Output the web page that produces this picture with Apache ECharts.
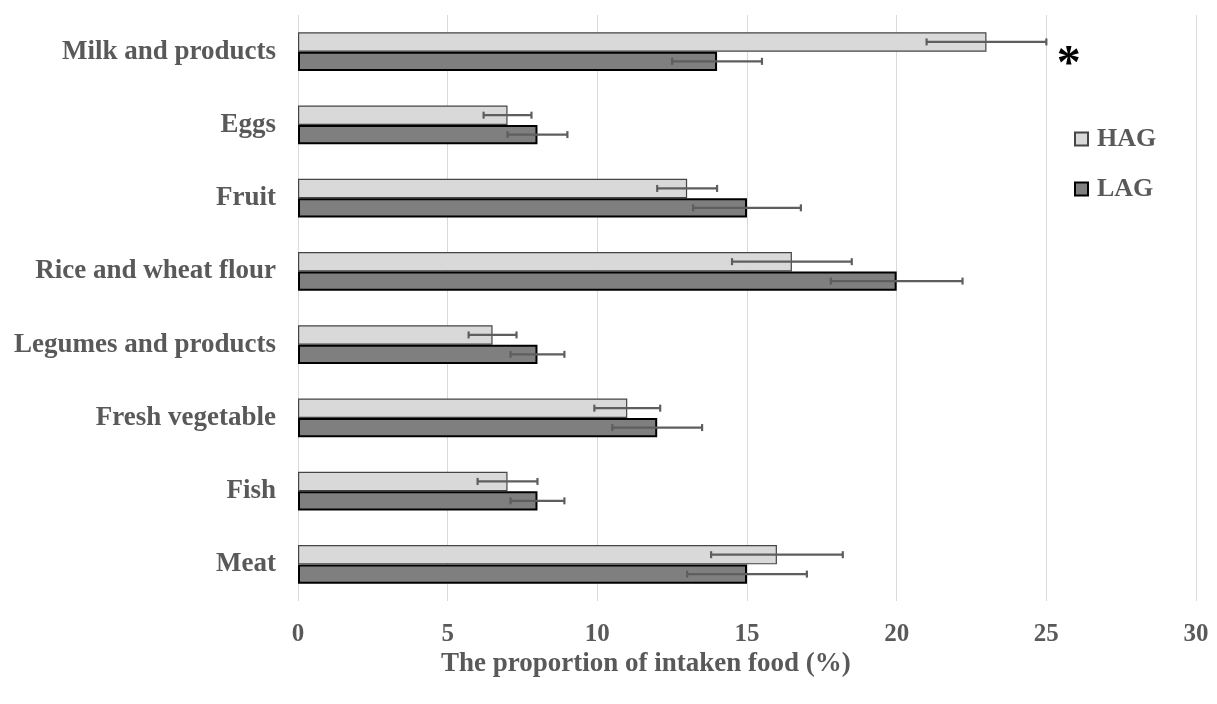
<!DOCTYPE html>
<html>
<head>
<meta charset="utf-8">
<script src="https://cdn.jsdelivr.net/npm/echarts@6/dist/echarts.min.js"></script>
<style>html,body{margin:0;padding:0;background:#fff;}#c{width:1217px;height:704px;}</style>
</head>
<body>
<div id="c"></div>
<script>
// categories listed bottom to top
const categories = ['Meat', 'Fish', 'Fresh vegetable', 'Legumes and products', 'Rice and wheat flour', 'Fruit', 'Eggs', 'Milk and products'];
const hagValues = [16, 7, 11, 6.5, 16.5, 13, 7, 23];
const hagErrors = [2.2, 1.0, 1.1, 0.8, 2.0, 1.0, 0.8, 2.0];
const lagValues = [15, 8, 12, 8, 20, 15, 8, 14];
const lagErrors = [2.0, 0.9, 1.5, 0.9, 2.2, 1.8, 1.0, 1.5];
const xTicks = [0, 5, 10, 15, 20, 25, 30];
const seriesNames = ['HAG', 'LAG'];
const markedCategory = 'Milk and products';

const FONT = '"Liberation Serif", "Times New Roman", serif';
const TXT = '#595959';
const GAP = 0.47;

function errorSeries(name, values, errors, side) {
  return {
    type: 'custom',
    name: name + ' error',
    z: 10,
    silent: true,
    data: values.map((v, i) => [i, v - errors[i], v + errors[i]]),
    renderItem: function (params, api) {
      const idx = api.value(0);
      const lo = api.coord([api.value(1), idx]);
      const hi = api.coord([api.value(2), idx]);
      const band = api.size([0, 1])[1];
      const barW = band * (1 - GAP) / 2;
      const y = lo[1] + side * barW / 2;
      const cap = 3.5;
      const style = { stroke: '#5e5e5e', lineWidth: 2.2 };
      return {
        type: 'group',
        children: [
          { type: 'line', shape: { x1: lo[0], y1: y, x2: hi[0], y2: y }, style: style },
          { type: 'line', shape: { x1: lo[0], y1: y - cap, x2: lo[0], y2: y + cap }, style: style },
          { type: 'line', shape: { x1: hi[0], y1: y - cap, x2: hi[0], y2: y + cap }, style: style }
        ]
      };
    }
  };
}

const chart = echarts.init(document.getElementById('c'), null, { renderer: 'canvas' });
chart.setOption({
  animation: false,
  backgroundColor: '#ffffff',
  grid: { left: 298, right: 21, top: 15, bottom: 103, containLabel: false },
  title: {
    text: 'The proportion of intaken food (%)',
    left: 436, top: 646,
    textStyle: { fontFamily: FONT, fontWeight: 'bold', fontSize: 27, color: TXT }
  },
  legend: {
    data: seriesNames,
    orient: 'vertical',
    left: 1069, top: 121,
    itemWidth: 13, itemHeight: 13,
    itemGap: 24,
    icon: 'rect',
    textStyle: { fontFamily: FONT, fontWeight: 'bold', fontSize: 26, color: TXT, padding: [0, 0, 0, 4] }
  },
  xAxis: {
    type: 'value',
    min: xTicks[0], max: xTicks[xTicks.length - 1], interval: 5,
    axisLine: { show: false },
    axisTick: { show: false },
    axisLabel: { fontFamily: FONT, fontWeight: 'bold', fontSize: 25, color: TXT, margin: 21 },
    splitLine: { show: true, lineStyle: { color: '#d9d9d9', width: 1 } }
  },
  yAxis: {
    type: 'category',
    data: categories,
    axisLine: { show: false },
    axisTick: { show: false },
    axisLabel: { fontFamily: FONT, fontWeight: 'bold', fontSize: 27, color: TXT, margin: 22 }
  },
  series: [
    {
      name: seriesNames[0], type: 'bar', data: hagValues,
      barGap: '0%', barCategoryGap: (GAP * 100) + '%',
      itemStyle: { color: '#d9d9d9', borderColor: '#454545', borderWidth: 1.2 },
      markPoint: {
        symbol: 'circle', symbolSize: 0,
        data: [{ coord: [25.75, markedCategory] }],
        label: { show: true, formatter: '*', fontFamily: FONT, fontWeight: 'bold', fontSize: 48, color: '#000', offset: [0, 24] }
      }
    },
    {
      name: seriesNames[1], type: 'bar', data: lagValues,
      itemStyle: { color: '#7f7f7f', borderColor: '#000', borderWidth: 2 }
    },
    errorSeries(seriesNames[0], hagValues, hagErrors, -1),
    errorSeries(seriesNames[1], lagValues, lagErrors, 1)
  ]
});
</script>
</body>
</html>
